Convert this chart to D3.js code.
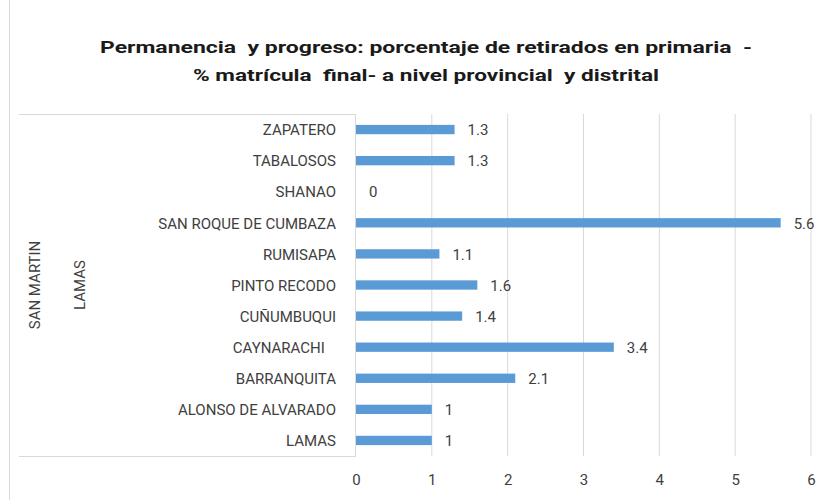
<!DOCTYPE html>
<html>
<head>
<meta charset="utf-8">
<script src="https://cdn.jsdelivr.net/npm/d3@7"></script>
<style>
  body { margin: 0; background: #fff; }
  text { font-family: Roboto, "Open Sans", sans-serif; white-space: pre; }
</style>
</head>
<body>
<div id="chart"></div>
<script>
var districts = ["ZAPATERO", "TABALOSOS", "SHANAO", "SAN ROQUE DE CUMBAZA", "RUMISAPA",
  "PINTO RECODO", "CUÑUMBUQUI", "CAYNARACHI   ", "BARRANQUITA", "ALONSO DE ALVARADO", "LAMAS"];
var retirados = [1.3, 1.3, 0, 5.6, 1.1, 1.6, 1.4, 3.4, 2.1, 1, 1];
var xTicks = [0, 1, 2, 3, 4, 5, 6];
var region = "SAN MARTIN";
var province = "LAMAS";
var titleLines = ["Permanencia  y progreso: porcentaje de retirados en primaria  -",
  "% matrícula  final- a nivel provincial  y distrital"];

var W = 829, H = 500;
var margin = {top: 114, right: 18, bottom: 44, left: 356};
var width = W - margin.left - margin.right,
    height = H - margin.top - margin.bottom;

var svg = d3.select("#chart").append("svg")
    .attr("width", W).attr("height", H);

// chart border (left edge visible)
svg.append("line")
    .attr("x1", 9.5).attr("x2", 9.5).attr("y1", 0).attr("y2", H)
    .attr("stroke", "#d9d9d9");

svg.selectAll(".title").data(titleLines).enter().append("text")
    .attr("x", 426).attr("y", function(d, i) { return 53 + i * 28; })
    .attr("text-anchor", "middle")
    .attr("font-size", "17px").attr("font-weight", "bold")
    .attr("fill", "#1a1a1a")
    .attr("textLength", function(d, i) { return i == 0 ? 652 : 466; })
    .attr("lengthAdjust", "spacingAndGlyphs")
    .text(function(d) { return d; });

var g = svg.append("g")
    .attr("transform", "translate(" + margin.left + "," + margin.top + ")");

var x = d3.scaleLinear().domain([0, 6]).range([0, width]);
var y = d3.scaleBand().domain(districts).range([0, height]).paddingInner(0.7).paddingOuter(0.35);

// gridlines
g.selectAll(".grid").data(xTicks.slice(1)).enter().append("line")
    .attr("x1", function(d) { return x(d); }).attr("x2", function(d) { return x(d); })
    .attr("y1", 0).attr("y2", height)
    .attr("stroke", "#d9d9d9");

// category bracket lines
svg.append("line").attr("x1", 19).attr("x2", margin.left)
    .attr("y1", margin.top + 0.5).attr("y2", margin.top + 0.5).attr("stroke", "#d9d9d9");
svg.append("line").attr("x1", 19).attr("x2", margin.left)
    .attr("y1", margin.top + height + 0.5).attr("y2", margin.top + height + 0.5).attr("stroke", "#d9d9d9");
g.append("line").attr("x1", -0.5).attr("x2", -0.5).attr("y1", 0).attr("y2", height)
    .attr("stroke", "#d9d9d9");

g.selectAll(".bar").data(retirados).enter().append("rect")
    .attr("x", x(0))
    .attr("y", function(d, i) { return y(districts[i]); })
    .attr("width", function(d) { return x(d) - x(0); })
    .attr("height", y.bandwidth())
    .attr("fill", "#5b9bd5");

g.selectAll(".val").data(retirados).enter().append("text")
    .attr("x", function(d) { return x(d) + 13; })
    .attr("y", function(d, i) { return y(districts[i]) + y.bandwidth() / 2; })
    .attr("dy", "0.38em")
    .attr("font-size", "15px").attr("fill", "#404040")
    .text(function(d) { return d; });

var xAxis = g.append("g")
    .attr("transform", "translate(0," + height + ")")
    .call(d3.axisBottom(x).tickValues(xTicks).tickFormat(d3.format("d")).tickSize(0).tickPadding(18));
xAxis.select(".domain").remove();
xAxis.selectAll("text").attr("font-size", "15px").attr("fill", "#404040")
    .attr("font-family", "Roboto, sans-serif");

var yAxis = g.append("g")
    .call(d3.axisLeft(y).tickSize(0).tickPadding(20));
yAxis.select(".domain").remove();
yAxis.selectAll("text").attr("font-size", "15px").attr("fill", "#404040")
    .attr("font-family", "Roboto, sans-serif").attr("dy", "0.38em");

svg.append("text")
    .attr("transform", "translate(40," + (margin.top + height / 2) + ") rotate(-90)")
    .attr("text-anchor", "middle")
    .attr("font-size", "15px").attr("fill", "#404040")
    .text(region);
svg.append("text")
    .attr("transform", "translate(85," + (margin.top + height / 2) + ") rotate(-90)")
    .attr("text-anchor", "middle")
    .attr("font-size", "15px").attr("fill", "#404040")
    .text(province);
</script>
</body>
</html>
